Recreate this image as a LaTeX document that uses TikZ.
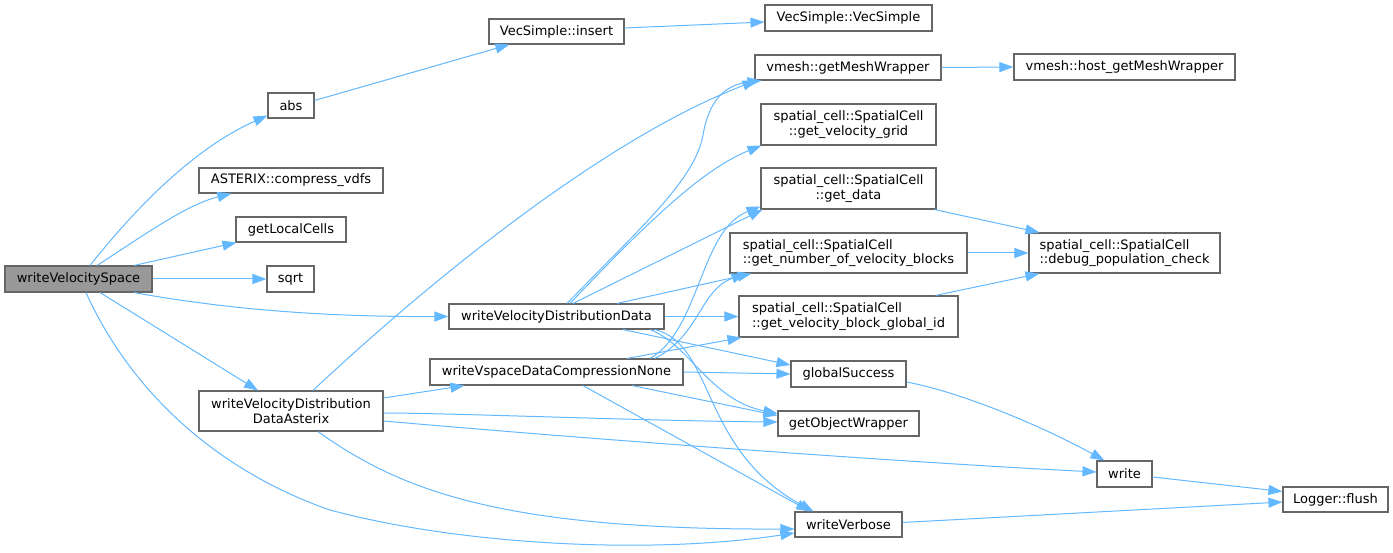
\documentclass[tikz,border=0pt]{standalone}
\usepackage{fontspec}
\setmainfont{DejaVu Sans}
\usetikzlibrary{arrows.meta,calc}
\definecolor{edgeblue}{HTML}{63B8FF}
\definecolor{nodeborder}{HTML}{666666}
\definecolor{mainfill}{HTML}{999999}
\begin{document}
\begin{tikzpicture}[x=1pt,y=-1pt,
  fn/.style={draw=nodeborder, line width=1.1pt, fill=white, inner sep=0pt, align=center,
             font=\fontsize{13}{14.5}\selectfont},
  fnl/.style={fn, align=left},
  call/.style={draw=edgeblue, line width=1pt, -{Triangle[length=14pt,width=10pt]}},
]
\useasboundingbox (0,0) rectangle (1393,553);

% nodes
\node[fn, fill=mainfill, minimum width=147pt, minimum height=26pt] (wvs) at (78.5,279) {writeVelocitySpace};
\node[fn, minimum width=46pt, minimum height=25pt] (abs) at (291,105.5) {abs};
\node[fn, minimum width=184pt, minimum height=25pt] (cmp) at (291,180.5) {ASTERIX::compress\_vdfs};
\node[fn, minimum width=110pt, minimum height=25pt] (glc) at (291,229.5) {getLocalCells};
\node[fn, minimum width=47pt, minimum height=26pt] (sqrt) at (290.5,279) {sqrt};
\node[fn, minimum width=184pt, minimum height=40pt] (wvdda) at (291,411) {writeVelocityDistribution\\DataAsterix};
\node[fn, minimum width=135pt, minimum height=25pt] (ins) at (556.5,31.5) {VecSimple::insert};
\node[fn, minimum width=215pt, minimum height=25pt] (wvdd) at (556.5,316.5) {writeVelocityDistributionData};
\node[fn, minimum width=253pt, minimum height=26pt] (wvsd) at (556.5,372) {writeVspaceDataCompressionNone};
\node[fn, minimum width=167pt, minimum height=26pt] (vsv) at (848.5,18) {VecSimple::VecSimple};
\node[fn, minimum width=186pt, minimum height=25pt] (gmw) at (848,67.5) {vmesh::getMeshWrapper};
\node[fn, minimum width=175pt, minimum height=41pt] (gvg) at (848.5,124.5) {spatial\_cell::SpatialCell\\::get\_velocity\_grid};
\node[fn, minimum width=175pt, minimum height=41pt] (gd) at (848.5,188.5) {spatial\_cell::SpatialCell\\::get\_data};
\node[fnl, minimum width=237pt, minimum height=40pt] (gnvb) at (848.5,253) {spatial\_cell::SpatialCell\\::get\_number\_of\_velocity\_blocks};
\node[fnl, minimum width=219pt, minimum height=41pt] (gvbg) at (848.5,316.5) {spatial\_cell::SpatialCell\\::get\_velocity\_block\_global\_id};
\node[fn, minimum width=115pt, minimum height=26pt] (gs) at (848.5,374) {globalSuccess};
\node[fn, minimum width=141pt, minimum height=25pt] (gow) at (848.5,423.5) {getObjectWrapper};
\node[fn, minimum width=107pt, minimum height=25pt] (wv) at (848.5,524.5) {writeVerbose};
\node[fn, minimum width=221pt, minimum height=26pt] (hmw) at (1124.5,67) {vmesh::host\_getMeshWrapper};
\node[fnl, minimum width=191pt, minimum height=40pt] (dpc) at (1124.5,253) {spatial\_cell::SpatialCell\\::debug\_population\_check};
\node[fn, minimum width=55pt, minimum height=26pt] (wr) at (1124.5,474) {write};
\node[fn, minimum width=105pt, minimum height=25pt] (fl) at (1335.5,499.5) {Logger::flush};

% edges from writeVelocitySpace
\draw[call] ($(wvs.north)+(11.5,0)$) .. controls (130,215) and (190,150) .. ($(abs.south west)+(0,-3)$);
\draw[call] ($(wvs.north)+(18.5,0)$) .. controls (140,238) and (185,205) .. ($(cmp.south west)+(33,0)$);
\draw[call] ($(wvs.north)+(55.5,0)$) -- ($(glc.south west)+(1,0)$);
\draw[call] (wvs.east) -- (sqrt.west);
\draw[call] ($(wvs.south)+(55.5,0)$) .. controls (230,310) and (330,317) .. (wvdd.west);
\draw[call] ($(wvs.south)+(21.5,0)$) -- ($(wvdda.north)+(-33,0)$);
\draw[call] ($(wvs.south)+(7.5,0)$) .. controls (130,390) and (215,470) .. (330,510)
            .. controls (460,545) and (650,555) .. ($(wv.west)+(0,8.5)$);

% abs / insert
\draw[call] ($(abs.east)+(0,-5)$) -- ($(ins.south west)+(21,0)$);
\draw[call] ($(ins.east)+(0,-3.5)$) -- ($(vsv.west)+(0,4)$);

% writeVelocityDistributionDataAsterix
\draw[call] ($(wvdda.north)+(22,0)$) .. controls (420,290) and (600,140) .. ($(gmw.south west)+(2,0)$);
\draw[call] ($(wvdda.east)+(0,-13)$) -- ($(wvsd.south west)+(35,0)$);
\draw[call] ($(wvdda.east)+(0,2)$) .. controls (450,413) and (650,421) .. ($(gow.west)+(0,-1.5)$);
\draw[call] ($(wvdda.east)+(0,10)$) .. controls (600,440) and (900,462) .. ($(wr.west)+(0,-2)$);
\draw[call] ($(wvdda.south)+(27,0)$) .. controls (400,490) and (500,530) .. ($(wv.west)+(0,4.5)$);

% writeVelocityDistributionData
\draw[call] ($(wvdd.north)+(10.5,0)$) .. controls (640,228) and (695,180) .. (703,135)
            .. controls (709,100) and (725,85) .. ($(gmw.south west)+(7,0)$);
\draw[call] ($(wvdd.north)+(13.5,0)$) .. controls (640,230) and (700,170) .. ($(gvg.south west)+(1,0)$);
\draw[call] ($(wvdd.north)+(16.5,0)$) -- ($(gd.south west)+(2,0)$);
\draw[call] ($(wvdd.north)+(60.5,0)$) -- ($(gnvb.south west)+(22,0)$);
\draw[call] (wvdd.east) -- (gvbg.west);
\draw[call] ($(wvdd.south)+(66.5,0)$) -- ($(gs.west)+(0,-9)$);
\draw[call] ($(wvdd.south)+(93.5,0)$) .. controls (690,345) and (710,400) .. ($(gow.west)+(0,-10)$);
\draw[call] ($(wvdd.south)+(98.5,0)$) .. controls (715,345) and (700,450) .. ($(wv.north)+(-35,0)$);

% writeVspaceDataCompressionNone
\draw[call] ($(wvsd.north)+(93.5,0)$) .. controls (700,330) and (700,230) .. ($(gd.south west)+(0,-3)$);
\draw[call] ($(wvsd.north)+(98.5,0)$) .. controls (700,335) and (700,290) .. ($(gnvb.south west)+(16,0)$);
\draw[call] ($(wvsd.north)+(70.5,0)$) -- ($(gvbg.south west)+(3,0)$);
\draw[call] (wvsd.east) -- (gs.west);
\draw[call] ($(wvsd.south)+(75.5,0)$) -- ($(gow.west)+(0,-8)$);
\draw[call] ($(wvsd.south)+(26.5,0)$) -- ($(wv.north)+(-38.5,0)$);

% right part
\draw[call] (gmw.east) -- (hmw.west);
\draw[call] ($(gd.south east)+(-2,0)$) -- ($(dpc.north west)+(11,0)$);
\draw[call] (gnvb.east) -- (dpc.west);
\draw[call] ($(gvbg.north east)+(-23,0)$) -- ($(dpc.south west)+(11,0)$);
\draw[call] ($(gs.east)+(0,8)$) .. controls (960,392) and (1040,425) .. ($(wr.north west)+(8,0)$);
\draw[call] ($(wr.east)+(0,3)$) -- ($(fl.west)+(0,-8)$);
\draw[call] ($(wv.east)+(0,-2)$) -- ($(fl.west)+(0,2.5)$);
\end{tikzpicture}
\end{document}
